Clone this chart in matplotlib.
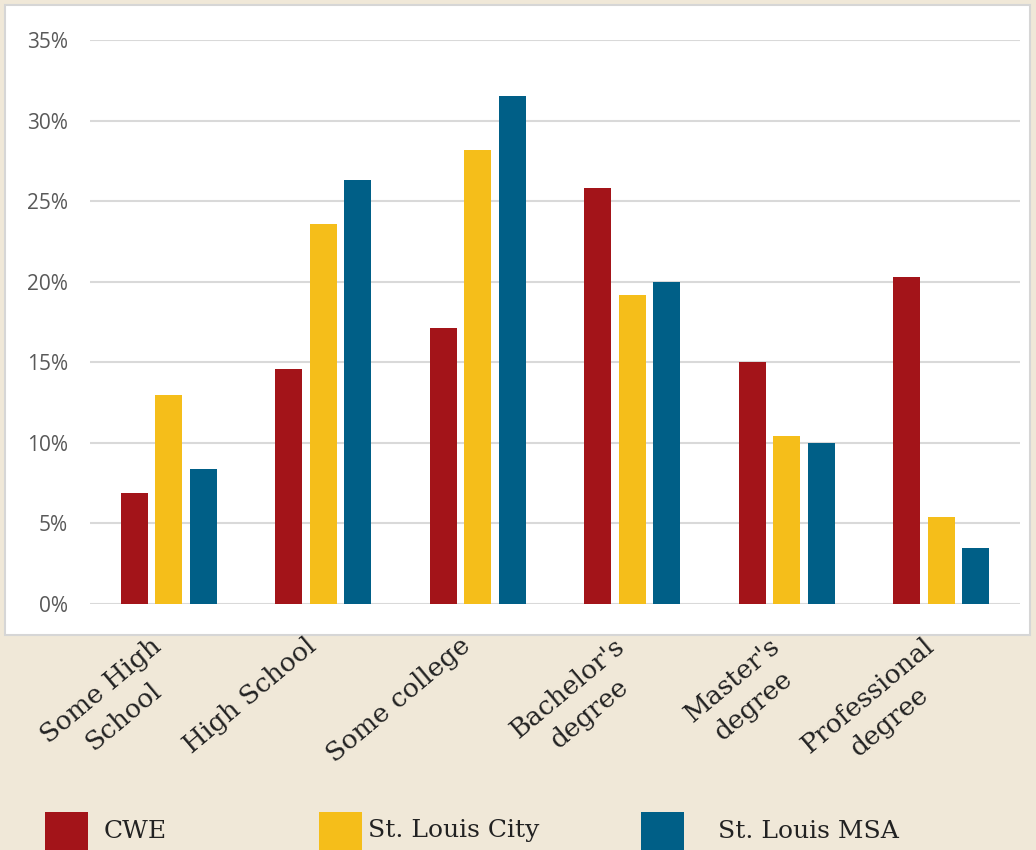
import numpy as np
import matplotlib
matplotlib.use("Agg")
import matplotlib.pyplot as plt
from matplotlib.patches import Rectangle

categories = ["Some High\nSchool", "High School", "Some college",
              "Bachelor's\ndegree", "Master's\ndegree", "Professional\ndegree"]
series_names = ["CWE", "St. Louis City", "St. Louis MSA"]
cwe = [6.9, 14.6, 17.1, 25.8, 15.0, 20.3]
city = [13.0, 23.6, 28.2, 19.2, 10.4, 5.4]
msa = [8.4, 26.3, 31.5, 20.0, 10.0, 3.5]
yticks = [0, 5, 10, 15, 20, 25, 30, 35]

colors = ["#a31419", "#f5be1a", "#005f87"]
bg = "#f0e8d8"
serif = "DejaVu Serif"

W, H = 1036, 850
fig = plt.figure(figsize=(W / 100, H / 100), dpi=100, facecolor=bg)

# white chart panel
fig.patches.append(Rectangle((5 / W, 1 - 635 / H), 1025 / W, 630 / H,
                             transform=fig.transFigure, facecolor="white",
                             edgecolor="#d6d6d6", linewidth=1.5, zorder=-5))

ax = fig.add_axes([90 / W, 1 - 604 / H, 930 / W, 564 / H])
ax.set_zorder(2)
ax.set_facecolor("none")
x = np.arange(len(categories))
bw, off = 0.175, 0.223
for i, vals in enumerate([cwe, city, msa]):
    ax.bar(x + (i - 1) * off, vals, width=bw, color=colors[i], zorder=3)

ax.set_xlim(-0.51, 5.51)
ax.set_ylim(0, 35)
ax.set_yticks(yticks)
ax.set_yticklabels([f"{v}%" for v in yticks], fontsize=15, color="#595959",
                   family="Open Sans")
ax.yaxis.grid(True, color="#d9d9d9", linewidth=1.5, zorder=0)
ax.tick_params(axis="y", length=0, pad=16)
ax.set_xticks(x)
ax.set_xticklabels([])
ax.tick_params(axis="x", length=0)
for s in ax.spines.values():
    s.set_visible(False)

# rotated category labels, hanging under the panel
for xi, lab in zip(x, categories):
    ax.text(xi - 0.12, -1.8, lab, rotation=40, ha="right", va="top",
            rotation_mode="anchor", multialignment="center", linespacing=1.45,
            fontsize=19, family=serif, color="#222222", clip_on=False)

# legend
leg_x = [45, 319, 641]
txt_x = [104, 368, 718]
for i, name in enumerate(series_names):
    fig.patches.append(Rectangle((leg_x[i] / W, 1 - 855 / H), 43 / W, 43 / H,
                                 transform=fig.transFigure, facecolor=colors[i],
                                 edgecolor="none"))
    fig.text(txt_x[i] / W, 1 - 831 / H, name, fontsize=18, family=serif,
             color="#222222", va="center", ha="left")

fig.savefig("out.png", dpi=100, facecolor=bg)
